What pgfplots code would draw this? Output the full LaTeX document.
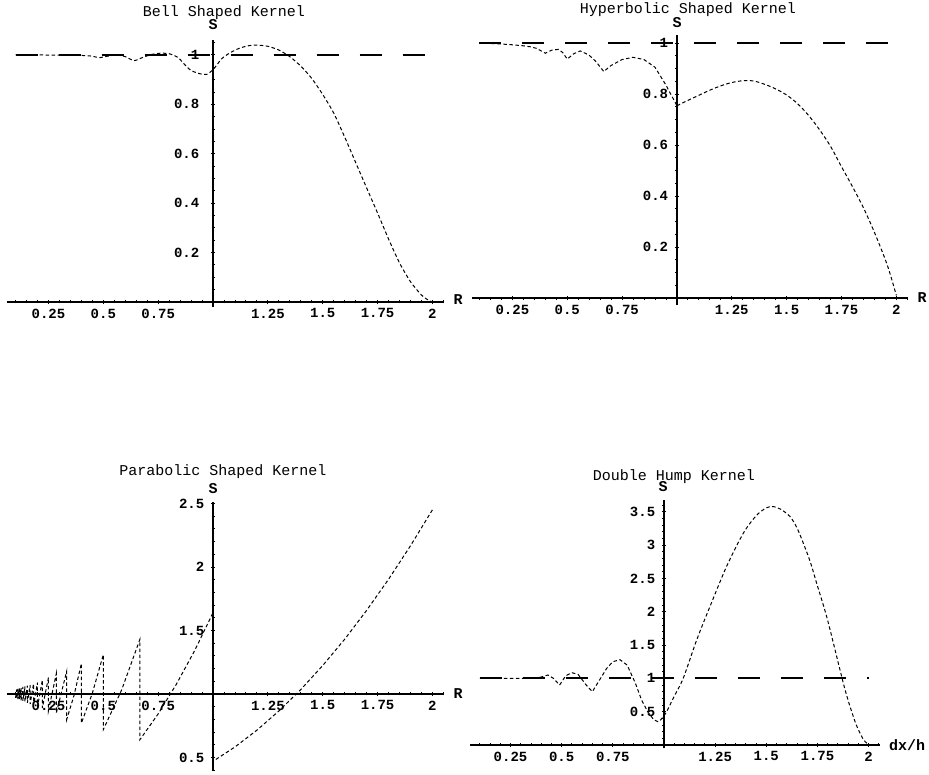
\documentclass[border=0pt]{standalone}
\usepackage{fontspec}
\setmainfont{Liberation Mono}
\usepackage{pgfplots}
\usepackage{pgfplotstable}
\pgfplotsset{compat=1.18}

\pgfplotstableread{
x y
0.1 1.0
0.2 1.0
0.3 0.999
0.4 0.998
0.45 0.995
0.48 0.989
0.52 0.995
0.56 1.0
0.6 0.993
0.64 0.977
0.68 0.99
0.72 1.002
0.76 1.007
0.8 1.005
0.84 0.99
0.87 0.962
0.9 0.937
0.94 0.924
0.97 0.921
1.0 0.94
1.04 0.985
1.08 1.01
1.12 1.027
1.16 1.037
1.2 1.04
1.25 1.035
1.3 1.02
1.35 0.993
1.4 0.955
1.45 0.905
1.5 0.84
1.55 0.765
1.6 0.668
1.65 0.565
1.7 0.462
1.75 0.36
1.8 0.255
1.85 0.158
1.9 0.082
1.95 0.028
1.98 0.008
2.0 0.0
}\bell

\pgfplotstableread{
x y
0.1 1.0
0.2 0.996
0.25 0.993
0.3 0.989
0.333 0.985
0.36 0.979
0.4 0.96
0.43 0.972
0.46 0.975
0.48 0.962
0.5 0.937
0.53 0.958
0.56 0.969
0.6 0.952
0.63 0.928
0.6667 0.888
0.7 0.912
0.75 0.935
0.8 0.944
0.85 0.935
0.9 0.905
0.95 0.835
1.0 0.754
}\hyperL

\pgfplotstableread{
x y
1.0 0.754
1.05 0.775
1.1 0.795
1.15 0.815
1.2 0.832
1.25 0.845
1.3 0.852
1.35 0.851
1.4 0.838
1.45 0.82
1.5 0.796
1.55 0.762
1.6 0.716
1.65 0.66
1.7 0.595
1.75 0.515
1.8 0.437
1.85 0.354
1.9 0.258
1.95 0.15
1.975 0.085
2.0 0.01
}\hyperR

\pgfplotstableread{
x y
0.1 0.97
0.1053 1.035
0.1053 0.965
0.1111 1.04
0.1111 0.96
0.1176 1.045
0.1176 0.955
0.125 1.05
0.125 0.95
0.1333 1.055
0.1333 0.945
0.1429 1.06
0.1429 0.94
0.1538 1.065
0.1538 0.93
0.1667 1.07
0.1667 0.92
0.1818 1.08
0.1818 0.91
0.2 1.09
0.2 0.90
0.2222 1.11
0.2222 0.89
0.25 1.13
0.25 0.87
0.2857 1.16
0.2857 0.85
0.3333 1.18
0.3333 0.80
0.3667 0.99
0.4 1.24
0.4 0.77
0.45 1.006
0.5 1.31
0.5 0.72
0.5833 1.031
0.6667 1.43
0.6667 0.64
0.75 0.843
0.8333 1.078
0.9167 1.343
1.0 1.64
1.0 0.47
1.1 0.583
1.2 0.715
1.3 0.866
1.4 1.035
1.5 1.224
1.6 1.431
1.7 1.658
1.8 1.903
1.9 2.167
2.0 2.45
}\parab

\pgfplotstableread{
x y
0.1 1.0
0.2 1.0
0.3 1.0
0.36 1.005
0.4 1.02
0.433 1.05
0.46 1.0
0.49 0.9
0.52 1.04
0.55 1.085
0.58 1.06
0.62 0.9
0.65 0.8
0.68 0.95
0.72 1.15
0.75 1.25
0.785 1.28
0.82 1.2
0.86 0.93
0.89 0.68
0.92 0.5
0.95 0.38
0.97 0.35
0.985 0.38
1.0 0.44
}\dhumpL

\pgfplotstableread{
x y
1.0 0.44
1.013 0.5
1.05 0.73
1.094 1.0
1.16 1.577
1.225 2.08
1.306 2.68
1.388 3.18
1.45 3.44
1.5 3.56
1.534 3.58
1.57 3.54
1.616 3.43
1.65 3.26
1.681 3.03
1.715 2.75
1.746 2.43
1.77 2.19
1.795 1.93
1.82 1.63
1.844 1.33
1.865 1.07
1.885 0.83
1.905 0.62
1.925 0.43
1.94 0.3
1.958 0.18
1.975 0.08
1.99 0.03
2.0 0.0
}\dhumpR

\pgfplotsset{
  kern/.style={
    axis lines=middle,
    axis line style={-, line width=1.3pt},
    every inner x axis line/.append style={-},
    every inner y axis line/.append style={-},
    anchor=south west,
    clip=false,
    tick style={black, line width=0.9pt},
    major tick length=4.5pt, minor tick length=3pt,
    tick label style={font=\fontsize{14}{14}\selectfont\bfseries},
    xtick={-0.75,-0.5,-0.25,0.25,0.5,0.75,1},
    xticklabels={0.25,0.5,0.75,1.25,1.5,1.75,2},
    minor xtick={-0.9,-0.85,...,1.03},
    xticklabel style={anchor=north, yshift=-1pt},
  },
  curve/.style={black, line width=1pt, dash pattern=on 3.5pt off 2.5pt},
  unity/.style={black, line width=1.8pt, dash pattern=on 22pt off 21pt},
}

\begin{document}
\begin{tikzpicture}
\useasboundingbox (0pt,0pt) rectangle (929pt,775pt);

% Bell
\begin{axis}[kern,
  at={(7pt,468.1pt)}, x=219.4pt, y=247pt,
  xmin=-0.939, xmax=1.05, ymin=-0.02, ymax=1.06,
  ytick={0.2,0.4,0.6,0.8,1}, yticklabels={0.2,0.4,0.6,0.8,1},
  minor ytick={0.05,0.1,...,1.05},
  yticklabel style={anchor=east, xshift=-8pt},
]
\addplot[unity] table[x expr=\thisrow{x}-1, y=y] {
x y
0.1 1
2.0 1
};
\addplot[curve, smooth, tension=0.4] table[x expr=\thisrow{x}-1, y=y] {\bell};
\end{axis}

% Hyperbolic
\begin{axis}[kern,
  at={(472pt,470.1pt)}, x=219.4pt, y=255pt,
  xmin=-0.934, xmax=1.053, ymin=-0.027, ymax=1.03,
  ytick={0.2,0.4,0.6,0.8,1}, yticklabels={0.2,0.4,0.6,0.8,1},
  minor ytick={0.05,0.1,...,1.03},
  yticklabel style={anchor=east, xshift=-3pt},
]
\addplot[unity] table[x expr=\thisrow{x}-1, y=y] {
x y
0.1 1
2.0 1
};
\addplot[curve] table[x expr=\thisrow{x}-1, y=y] {\hyperL};
\addplot[curve, smooth] table[x expr=\thisrow{x}-1, y=y] {\hyperR};
\end{axis}

% Parabolic
\begin{axis}[kern,
  at={(7pt,4.8pt)}, x=219.4pt, y=127pt,
  xmin=-0.939, xmax=1.05, ymin=-0.6, ymax=1.51,
  ytick={-0.5,0.5,1,1.5}, yticklabels={0.5,1.5,2,2.5},
  minor ytick={-0.6,-0.5,...,1.51},
  yticklabel style={anchor=east, xshift=-3pt},
]
\addplot[unity] table[x expr=\thisrow{x}-1, y expr=\thisrow{y}-1] {
x y
0.1 1
2.0 1
};
\addplot[curve] table[x expr=\thisrow{x}-1, y expr=\thisrow{y}-1] {\parab};
\end{axis}

% Double hump
\begin{axis}[kern,
  at={(470pt,26.7pt)}, x=204.6pt, y=66.6pt,
  xmin=-0.948, xmax=1.057, ymin=-0.05, ymax=3.68,
  ytick={0.5,1,1.5,2,2.5,3,3.5}, yticklabels={0.5,1,1.5,2,2.5,3,3.5},
  minor ytick={0.1,0.2,...,3.65},
  yticklabel style={anchor=east, xshift=-3pt},
]
\addplot[unity] table[x expr=\thisrow{x}-1, y=y] {
x y
0.1 1
2.0 1
};
\addplot[curve] table[x expr=\thisrow{x}-1, y=y] {\dhumpL};
\addplot[curve, smooth] table[x expr=\thisrow{x}-1, y=y] {\dhumpR};
\end{axis}

\begin{scope}[every node/.style={font=\fontsize{15}{15}\selectfont, inner sep=0pt}]
\node at (224pt,762pt) {Bell Shaped Kernel};
\node at (688pt,765pt) {Hyperbolic Shaped Kernel};
\node at (223pt,303pt) {Parabolic Shaped Kernel};
\node at (674pt,298pt) {Double Hump Kernel};
\end{scope}
\begin{scope}[every node/.style={font=\fontsize{15}{15}\selectfont\bfseries, inner sep=0pt}]
\node at (213pt,750pt) {S};
\node at (677pt,752pt) {S};
\node at (213pt,286pt) {S};
\node at (663pt,288pt) {S};
\node at (458pt,475pt) {R};
\node at (922pt,477pt) {R};
\node at (458pt,81pt) {R};
\node at (907pt,30pt) {dx/h};
\end{scope}
\end{tikzpicture}
\end{document}
